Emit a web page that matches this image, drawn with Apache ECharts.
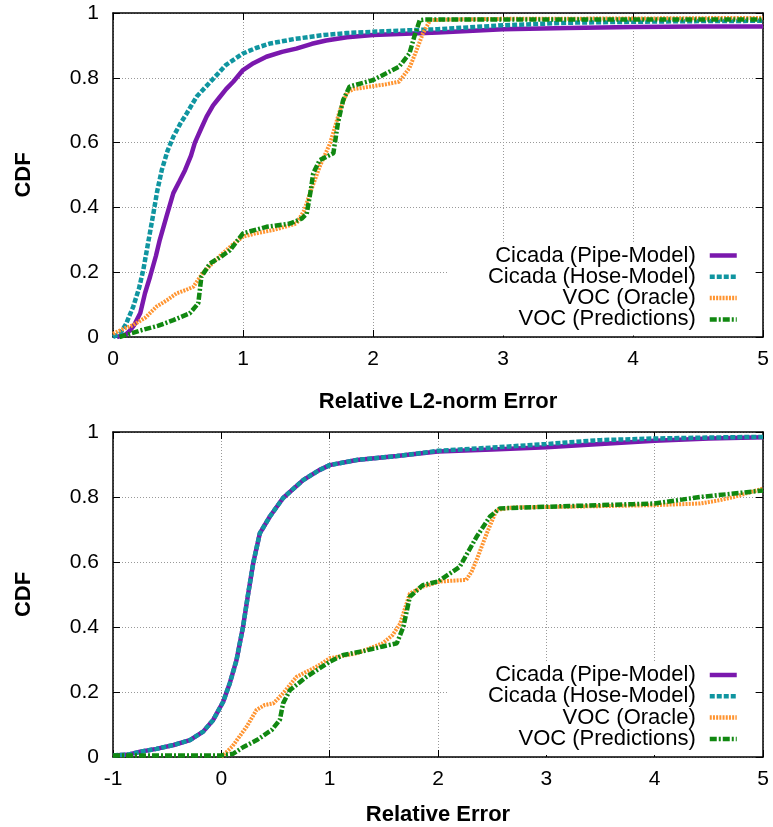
<!DOCTYPE html>
<html>
<head>
<meta charset="utf-8">
<script src="https://cdn.jsdelivr.net/npm/echarts@6/dist/echarts.min.js"></script>
<style>
html,body{margin:0;padding:0;background:#fff;}
#chart{width:773px;height:827px;}
</style>
</head>
<body>
<div id="chart"></div>
<script>
// ---- Data ----
const seriesNames = ['Cicada (Pipe-Model)', 'Cicada (Hose-Model)', 'VOC (Oracle)', 'VOC (Predictions)'];
const yTicks = [0, 0.2, 0.4, 0.6, 0.8, 1];
const topXTicks = [0, 1, 2, 3, 4, 5];
const botXTicks = [-1, 0, 1, 2, 3, 4, 5];

// Top plot: Relative L2-norm Error
const topPipeX = [0.03, 0.1, 0.13, 0.16, 0.21, 0.246, 0.285, 0.33, 0.36, 0.41, 0.464, 0.51, 0.554, 0.6, 0.63, 0.68, 0.72, 0.77, 0.82, 0.87, 0.925, 1.0, 1.08, 1.18, 1.3, 1.41, 1.53, 1.64, 1.8, 2.0, 2.2, 2.5, 3.0, 3.5, 4.0, 4.5, 5.0];
const topPipeY = [0.0, 0.008, 0.02, 0.035, 0.074, 0.135, 0.186, 0.25, 0.30, 0.37, 0.444, 0.48, 0.515, 0.56, 0.60, 0.645, 0.68, 0.715, 0.74, 0.765, 0.788, 0.824, 0.845, 0.865, 0.88, 0.89, 0.905, 0.915, 0.925, 0.932, 0.935, 0.94, 0.95, 0.954, 0.957, 0.958, 0.958];

const topHoseX = [0.0, 0.054, 0.1, 0.156, 0.2, 0.233, 0.27, 0.31, 0.34, 0.375, 0.42, 0.464, 0.52, 0.567, 0.644, 0.72, 0.785, 0.87, 1.0, 1.1, 1.21, 1.4, 1.62, 1.8, 2.0, 2.3, 2.5, 3.0, 3.5, 4.0, 4.5, 5.0];
const topHoseY = [0.0, 0.01, 0.04, 0.094, 0.15, 0.207, 0.29, 0.38, 0.45, 0.515, 0.575, 0.618, 0.66, 0.69, 0.742, 0.775, 0.803, 0.84, 0.875, 0.892, 0.906, 0.92, 0.932, 0.938, 0.942, 0.947, 0.95, 0.962, 0.97, 0.973, 0.975, 0.976];

const topOracleX = [0.0, 0.08, 0.156, 0.25, 0.336, 0.42, 0.49, 0.56, 0.618, 0.69, 0.77, 0.846, 0.92, 1.0, 1.1, 1.23, 1.41, 1.47, 1.515, 1.59, 1.67, 1.746, 1.8, 1.85, 1.98, 2.1, 2.2, 2.28, 2.33, 2.385, 2.44, 2.6, 3.0, 4.0, 5.0];
const topOracleY = [0.01, 0.025, 0.037, 0.06, 0.094, 0.115, 0.135, 0.145, 0.155, 0.197, 0.23, 0.259, 0.285, 0.31, 0.32, 0.33, 0.35, 0.39, 0.443, 0.526, 0.598, 0.70, 0.755, 0.765, 0.773, 0.78, 0.788, 0.83, 0.88, 0.938, 0.978, 0.98, 0.982, 0.983, 0.985];

const topPredX = [0.05, 0.21, 0.35, 0.464, 0.59, 0.656, 0.68, 0.746, 0.82, 0.9, 1.0, 1.18, 1.36, 1.45, 1.49, 1.52, 1.54, 1.59, 1.695, 1.73, 1.77, 1.82, 2.0, 2.2, 2.28, 2.32, 2.36, 2.4, 3.0, 4.0, 5.0];
const topPredY = [0.0, 0.02, 0.035, 0.052, 0.073, 0.104, 0.186, 0.227, 0.245, 0.268, 0.32, 0.34, 0.35, 0.365, 0.38, 0.45, 0.505, 0.546, 0.567, 0.66, 0.731, 0.773, 0.793, 0.834, 0.875, 0.93, 0.978, 0.98, 0.98, 0.98, 0.98];

// Bottom plot: Relative Error
const botPipeX = [-1, -0.85, -0.75, -0.6, -0.44, -0.29, -0.168, -0.075, 0.017, 0.078, 0.14, 0.2, 0.248, 0.294, 0.355, 0.448, 0.57, 0.755, 0.9, 1.0, 1.25, 1.62, 2.0, 2.5, 3.0, 3.5, 4.0, 4.5, 5.0];
const botPipeY = [0.005, 0.008, 0.016, 0.025, 0.037, 0.052, 0.078, 0.114, 0.17, 0.227, 0.298, 0.40, 0.503, 0.596, 0.688, 0.74, 0.797, 0.852, 0.882, 0.898, 0.914, 0.926, 0.94, 0.946, 0.953, 0.963, 0.973, 0.98, 0.984];

const botHoseX = [-1, -0.85, -0.75, -0.6, -0.44, -0.29, -0.168, -0.075, 0.017, 0.078, 0.14, 0.2, 0.248, 0.294, 0.355, 0.448, 0.57, 0.755, 0.9, 1.0, 1.25, 1.62, 2.0, 2.5, 3.0, 3.5, 4.0, 4.5, 5.0];
const botHoseY = [0.005, 0.008, 0.016, 0.025, 0.037, 0.052, 0.078, 0.114, 0.17, 0.227, 0.298, 0.40, 0.503, 0.596, 0.688, 0.74, 0.797, 0.852, 0.882, 0.898, 0.914, 0.926, 0.942, 0.952, 0.963, 0.975, 0.98, 0.983, 0.985];

const botOracleX = [0.0, 0.1, 0.233, 0.325, 0.4, 0.48, 0.57, 0.695, 0.88, 1.0, 1.25, 1.49, 1.58, 1.65, 1.74, 1.86, 2.02, 2.26, 2.31, 2.356, 2.45, 2.54, 2.69, 3.18, 4.0, 4.42, 4.6, 4.73, 5.0];
const botOracleY = [0.0, 0.032, 0.093, 0.145, 0.16, 0.165, 0.196, 0.247, 0.278, 0.304, 0.319, 0.35, 0.375, 0.41, 0.503, 0.524, 0.54, 0.545, 0.57, 0.606, 0.688, 0.76, 0.768, 0.77, 0.775, 0.78, 0.79, 0.80, 0.826];

const botPredX = [-1, 0.0, 0.11, 0.2, 0.327, 0.465, 0.54, 0.57, 0.634, 0.788, 1.0, 1.126, 1.3, 1.49, 1.62, 1.68, 1.74, 1.86, 2.0, 2.2, 2.357, 2.48, 2.57, 3.0, 3.8, 4.0, 4.42, 5.0];
const botPredY = [0.005, 0.005, 0.01, 0.03, 0.052, 0.083, 0.114, 0.165, 0.206, 0.247, 0.293, 0.314, 0.325, 0.34, 0.35, 0.40, 0.493, 0.529, 0.54, 0.585, 0.678, 0.74, 0.765, 0.77, 0.778, 0.78, 0.80, 0.82];

// ---- Styles ----
const FONT = 'Liberation Sans';
const colors = ['#7a18ad', '#1095a0', '#ff9430', '#118811'];
const widths = [4.5, 4.5, 4, 4.5];
const dashes = ['solid', [5, 2], [2, 1.2], [7, 2, 2, 2]];

function pairs(xs, ys) { return xs.map((x, i) => [x, ys[i]]); }

const chart = echarts.init(document.getElementById('chart'), null, { renderer: 'canvas' });

const grids = [
  { left: 113, top: 13, width: 650, height: 324 },
  { left: 113, top: 432, width: 650, height: 325 }
];

function mainX(gi, min, max, name, nameGap) {
  return {
    type: 'value', gridIndex: gi, min: min, max: max, interval: 1, position: 'bottom',
    name: name, nameLocation: 'middle', nameGap: nameGap,
    nameTextStyle: { fontFamily: FONT, fontSize: 22, fontWeight: 'bold', color: '#000' },
    axisLine: { show: true, onZero: false, lineStyle: { color: '#000', width: 1.5 } },
    axisTick: { show: true, inside: true, length: 7, lineStyle: { color: '#000', width: 1 } },
    axisLabel: { fontFamily: FONT, fontSize: 21, color: '#000', margin: 12 },
    splitLine: { show: true, lineStyle: { color: '#999', type: [1, 2], width: 1 } }
  };
}
function mirrorX(gi, min, max) {
  return {
    type: 'value', gridIndex: gi, min: min, max: max, interval: 1, position: 'top',
    axisLine: { show: true, onZero: false, lineStyle: { color: '#000', width: 1.5 } },
    axisTick: { show: true, inside: true, length: 7, lineStyle: { color: '#000', width: 1 } },
    axisLabel: { show: false }, splitLine: { show: false }
  };
}
function mainY(gi) {
  return {
    type: 'value', gridIndex: gi, min: 0, max: 1, interval: 0.2, position: 'left',
    name: 'CDF', nameLocation: 'middle', nameGap: 78,
    nameTextStyle: { fontFamily: FONT, fontSize: 22, fontWeight: 'bold', color: '#000' },
    axisLine: { show: true, onZero: false, lineStyle: { color: '#000', width: 1.5 } },
    axisTick: { show: true, inside: true, length: 7, lineStyle: { color: '#000', width: 1 } },
    axisLabel: { fontFamily: FONT, fontSize: 21, color: '#000', margin: 14 },
    splitLine: { show: true, lineStyle: { color: '#999', type: [1, 2], width: 1 } }
  };
}
function mirrorY(gi) {
  return {
    type: 'value', gridIndex: gi, min: 0, max: 1, interval: 0.2, position: 'right',
    axisLine: { show: true, onZero: false, lineStyle: { color: '#000', width: 1.5 } },
    axisTick: { show: true, inside: true, length: 7, lineStyle: { color: '#000', width: 1 } },
    axisLabel: { show: false }, splitLine: { show: false }
  };
}

const topData = [pairs(topPipeX, topPipeY), pairs(topHoseX, topHoseY), pairs(topOracleX, topOracleY), pairs(topPredX, topPredY)];
const botData = [pairs(botPipeX, botPipeY), pairs(botHoseX, botHoseY), pairs(botOracleX, botOracleY), pairs(botPredX, botPredY)];

const series = [];
[topData, botData].forEach((set, gi) => {
  set.forEach((d, k) => {
    series.push({
      type: 'line', name: seriesNames[k], data: d,
      xAxisIndex: gi * 2, yAxisIndex: gi * 2,
      showSymbol: false, symbol: 'none', smooth: false, animation: false,
      color: colors[k],
      itemStyle: { color: colors[k] },
      lineStyle: { color: colors[k], width: widths[k], type: dashes[k], cap: 'butt' },
      z: 2 + k
    });
  });
});

function legend(top) {
  return {
    orient: 'vertical', align: 'right', right: 20, top: top,
    itemWidth: 27, itemHeight: 14, itemGap: -0.7,
    backgroundColor: '#fff', padding: [2.5, 14, 5, 40],
    selectedMode: false,
    lineStyle: { width: 4.5 },
    itemStyle: { color: 'rgba(0,0,0,0)', borderWidth: 0, opacity: 0 },
    textStyle: { fontFamily: FONT, fontSize: 22, lineHeight: 21, color: '#000', padding: [0, 9, 0, 0] },
    data: seriesNames.slice(),
    z: 10
  };
}

chart.setOption({
  animation: false,
  backgroundColor: '#fff',
  grid: grids,
  xAxis: [mainX(0, 0, 5, 'Relative L2-norm Error', 54), mirrorX(0, 0, 5), mainX(1, -1, 5, 'Relative Error', 47), mirrorX(1, -1, 5)],
  yAxis: [mainY(0), mirrorY(0), mainY(1), mirrorY(1)],
  legend: [legend(242), legend(661.5)],
  series: series
});
</script>
</body>
</html>
